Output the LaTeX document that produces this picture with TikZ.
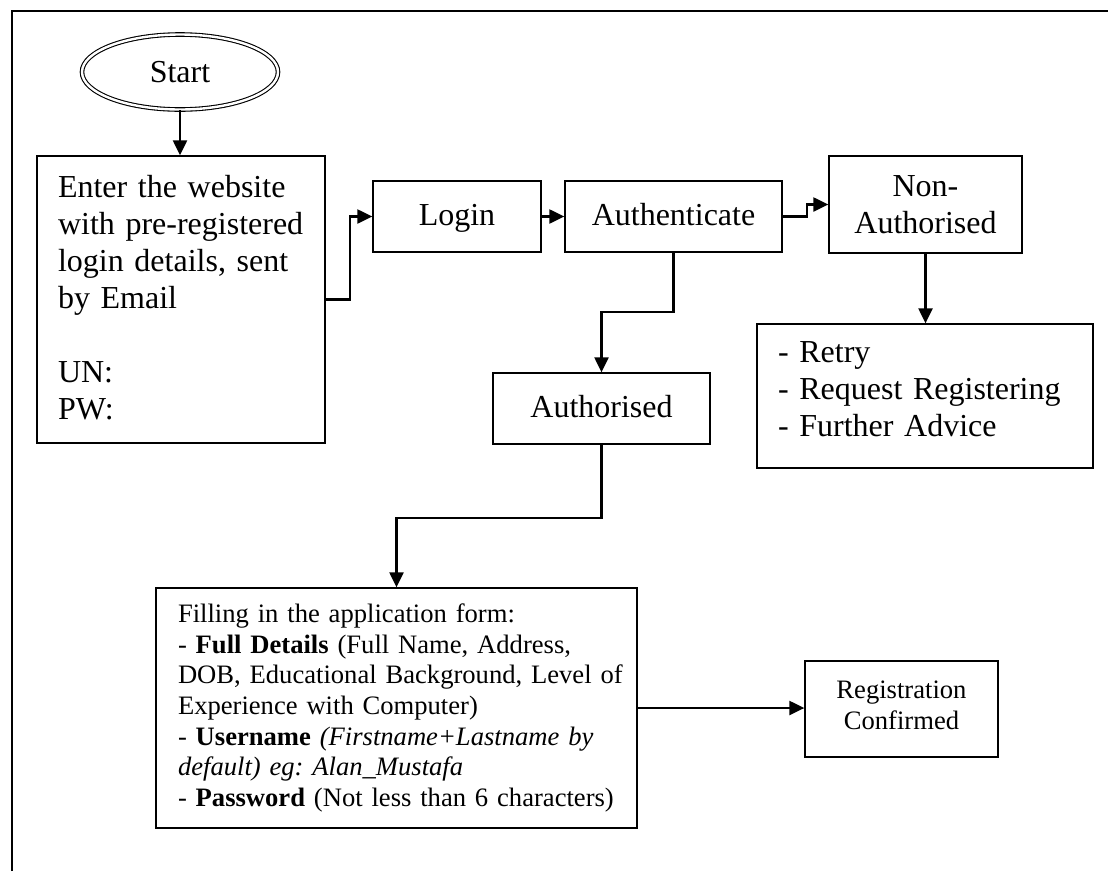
\documentclass[tikz,border=0pt]{standalone}
\usepackage{fontspec}
\setmainfont{Liberation Serif}
\usetikzlibrary{shapes.geometric,arrows.meta}
\frenchspacing
\tikzset{
  box/.style={draw, line width=1.3pt, rectangle, inner ysep=0pt},
  one/.style={text height=21pt, text depth=4pt, align=center},
  bigtext/.style={font=\fontsize{32}{37}\selectfont},
  smalltext/.style={font=\fontsize{26.6}{30.7}\selectfont},
  conn/.style={line width=2.2pt, -{Triangle[length=15pt,width=14pt]}},
  frame/.style={line width=1.8pt}
}
\begin{document}
\begin{tikzpicture}[x=1pt,y=-1pt]
\useasboundingbox (0,0) rectangle (1108,871);
\draw[frame] (12,871) -- (12,11) -- (1108,11);

\node[ellipse, draw, double, double distance=2.4pt, line width=1.1pt,
      minimum width=196pt, minimum height=75pt, inner sep=0pt, bigtext] (start) at (180,72) {Start};

\node[box, bigtext, minimum width=288pt, minimum height=287pt, text width=246pt,
      inner xsep=21pt, align=left] (enter) at (181,299.5)
  {Enter the website\\with pre-registered\\login details, sent\\by Email\\[37pt]UN:\\PW:\rule[-4pt]{0pt}{4pt}};

\node[box, bigtext, one, minimum width=168pt, minimum height=71pt] (login) at (457,216.5) {Login};
\node[box, bigtext, one, minimum width=217pt, minimum height=71pt] (auth) at (673.5,216.5) {Authenticate};
\node[box, bigtext, minimum width=193pt, minimum height=97pt, align=center] (nonauth) at (925.5,204.5) {Non-\\Authorised};

\node[box, bigtext, minimum width=336pt, minimum height=144pt, text width=294pt,
      inner xsep=21pt, align=left] (options) at (925,396)
  {- Retry\\- Request Registering\\- Further Advice\rule[-13pt]{0pt}{13pt}};

\node[box, bigtext, one, minimum width=217pt, minimum height=71pt] (authd) at (601.5,408.5) {Authorised};

\node[box, smalltext, minimum width=481pt, minimum height=240pt, text width=437pt,
      inner xsep=22pt, align=left] (form) at (396.5,708)
  {\mbox{Filling in the application form:}\\
   \mbox{- \textbf{Full Details} (Full Name, Address,}\\
   \mbox{DOB, Educational Background, Level of}\\
   \mbox{Experience with Computer)}\\
   \mbox{- \textbf{Username} \textit{(Firstname+Lastname by}}\\
   \mbox{\textit{default) eg: Alan\_Mustafa}}\\
   \mbox{- \textbf{Password} (Not less than 6 characters)}};

\node[box, smalltext, minimum width=193pt, minimum height=96pt, align=center] (reg) at (901.5,709)
  {Registration\\Confirmed\rule[-7pt]{0pt}{7pt}};

\draw[conn] (start.south) -- (start.south |- enter.north);
\draw[conn] (enter.east) -- ++(24,0) |- (login.west);
\draw[conn] (login.east) -- (auth.west);
\draw[conn] (auth.east) -- ++(24,0) |- (nonauth.west);
\draw[conn] (nonauth.south) -- (nonauth.south |- options.north);
\draw[conn] (auth.south) -- ++(0,59) -| (authd.north);
\draw[conn] (authd.south) -- ++(0,73) -| (form.north);
\draw[conn] (form.east) -- (form.east -| reg.west);
\end{tikzpicture}
\end{document}
